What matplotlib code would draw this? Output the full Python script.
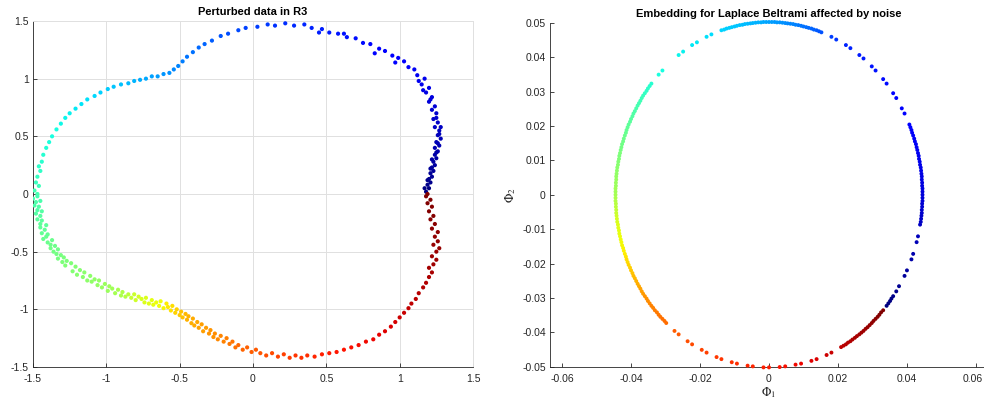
import numpy as np
import matplotlib
matplotlib.use("Agg")
import matplotlib.pyplot as plt
from matplotlib.transforms import ScaledTranslation

plt.rcParams['font.family'] = ['Liberation Sans', 'DejaVu Sans']
plt.rcParams['mathtext.fontset'] = 'stix'

# ---------------- data ----------------
left_title = "Perturbed data in R3"
right_title = "Embedding for Laplace Beltrami affected by noise"

left_ticks = [-1.5, -1, -0.5, 0, 0.5, 1, 1.5]
left_ticklabels = ["-1.5", "-1", "-0.5", "0", "0.5", "1", "1.5"]
right_xticks = [-0.06, -0.04, -0.02, 0, 0.02, 0.04, 0.06]
right_xticklabels = ["-0.06", "-0.04", "-0.02", "0", "0.02", "0.04", "0.06"]
right_yticks = [-0.05, -0.04, -0.03, -0.02, -0.01, 0, 0.01, 0.02, 0.03, 0.04, 0.05]
right_yticklabels = ["-0.05", "-0.04", "-0.03", "-0.02", "-0.01", "0",
                     "0.01", "0.02", "0.03", "0.04", "0.05"]

# perturbed data in R3, projected (x, y, colour parameter)
left_points = [
    (1.18, 0.02, .00), (1.20, 0.05, .005), (1.19, 0.08, .01), (1.21, 0.10, .013), (1.20, 0.13, .016),
    (1.22, 0.15, .02), (1.21, 0.18, .022), (1.23, 0.20, .025), (1.22, 0.23, .028), (1.24, 0.25, .03),
    (1.23, 0.28, .032), (1.25, 0.31, .035), (1.24, 0.34, .038), (1.26, 0.37, .04), (1.24, 0.40, .043),
    (1.27, 0.42, .046), (1.25, 0.45, .048), (1.28, 0.48, .05), (1.26, 0.51, .053), (1.27, 0.55, .056),
    (1.24, 0.58, .06), (1.26, 0.62, .063), (1.23, 0.65, .066), (1.25, 0.70, .07), (1.22, 0.73, .073),
    (1.24, 0.76, .076), (1.20, 0.80, .08), (1.22, 0.84, .083), (1.18, 0.88, .087), (1.20, 0.92, .09),
    (1.15, 0.95, .094), (1.17, 1.00, .097), (1.12, 1.03, .10), (1.10, 1.08, .104), (1.06, 1.10, .108),
    (1.03, 1.15, .112), (0.99, 1.18, .116), (0.95, 1.20, .12), (0.90, 1.24, .124), (0.86, 1.26, .128),
    (0.80, 1.30, .132), (0.75, 1.31, .135), (0.70, 1.35, .14), (0.64, 1.36, .143), (0.58, 1.39, .147),
    (0.52, 1.40, .15), (0.47, 1.43, .154), (0.40, 1.44, .158), (0.35, 1.47, .162), (0.28, 1.46, .166),
    (0.22, 1.48, .17), (0.15, 1.46, .175), (0.10, 1.47, .18), (0.03, 1.45, .185), (-0.05, 1.44, .19),
    (-0.10, 1.42, .196), (-0.17, 1.39, .203), (-0.22, 1.37, .21), (-0.28, 1.33, .217), (-0.33, 1.30, .224),
    (-0.37, 1.27, .23), (-0.41, 1.23, .236), (-0.45, 1.19, .242), (-0.48, 1.15, .248), (-0.51, 1.11, .254),
    (-0.54, 1.08, .26), (-0.57, 1.05, .266), (-0.61, 1.04, .272), (-0.65, 1.02, .278), (-0.69, 1.02, .284),
    (-0.73, 1.00, .29), (-0.77, 0.99, .296), (-0.81, 0.98, .302), (-0.85, 0.96, .308), (-0.90, 0.95, .314),
    (-0.95, 0.93, .32), (-0.99, 0.91, .326), (-1.04, 0.88, .332), (-1.08, 0.85, .338), (-1.13, 0.82, .344),
    (-1.17, 0.78, .35), (-1.21, 0.74, .355), (-1.25, 0.70, .36), (-1.28, 0.66, .365), (-1.31, 0.61, .37),
    (-1.34, 0.56, .375), (-1.37, 0.50, .38), (-1.39, 0.45, .385), (-1.41, 0.40, .39), (-1.43, 0.34, .395),
    (-1.44, 0.28, .40), (-1.46, 0.24, .405), (-1.45, 0.20, .41), (-1.47, 0.15, .415), (-1.48, 0.10, .42),
    (-1.46, 0.07, .425), (-1.49, 0.03, .43), (-1.47, 0.00, .435),
    (-1.47, -0.02, .437), (-1.50, -0.04, .439), (-1.45, -0.06, .441), (-1.48, -0.07, .443), (-1.49, -0.10, .445),
    (-1.46, -0.11, .447), (-1.47, -0.14, .449), (-1.44, -0.15, .451), (-1.48, -0.17, .453), (-1.45, -0.19, .455),
    (-1.47, -0.22, .458), (-1.44, -0.23, .46), (-1.45, -0.26, .462), (-1.41, -0.27, .464), (-1.45, -0.29, .466),
    (-1.42, -0.31, .468), (-1.44, -0.34, .47), (-1.40, -0.35, .472), (-1.41, -0.37, .474), (-1.43, -0.39, .476),
    (-1.37, -0.40, .478), (-1.40, -0.42, .48), (-1.38, -0.44, .482), (-1.35, -0.45, .484), (-1.38, -0.47, .486),
    (-1.33, -0.48, .488), (-1.36, -0.50, .49), (-1.34, -0.52, .492), (-1.31, -0.53, .494), (-1.33, -0.56, .496),
    (-1.29, -0.55, .498), (-1.30, -0.59, .50), (-1.27, -0.58, .502), (-1.28, -0.62, .504), (-1.24, -0.60, .506),
    (-1.23, -0.67, .508), (-1.21, -0.63, .51), (-1.20, -0.70, .512), (-1.18, -0.66, .514), (-1.16, -0.72, .516),
    (-1.15, -0.68, .518), (-1.13, -0.75, .52), (-1.11, -0.71, .522), (-1.10, -0.76, .524), (-1.08, -0.74, .526),
    (-1.06, -0.79, .528), (-1.05, -0.75, .53), (-1.03, -0.81, .533), (-1.01, -0.78, .536), (-0.99, -0.84, .539),
    (-0.98, -0.80, .542), (-0.96, -0.82, .545), (-0.94, -0.86, .548), (-0.92, -0.83, .551), (-0.90, -0.88, .557),
    (-0.89, -0.85, .561), (-0.87, -0.89, .57), (-0.85, -0.87, .578), (-0.83, -0.90, .587), (-0.81, -0.87, .595),
    (-0.80, -0.92, .60), (-0.78, -0.89, .605), (-0.76, -0.91, .61), (-0.74, -0.94, .615), (-0.73, -0.90, .617),
    (-0.71, -0.95, .622), (-0.69, -0.92, .627), (-0.68, -0.96, .629), (-0.66, -0.94, .634), (-0.64, -0.97, .638),
    (-0.63, -0.93, .64), (-0.61, -0.99, .649), (-0.59, -0.95, .657), (-0.58, -0.98, .662), (-0.56, -1.01, .671),
    (-0.55, -0.97, .675), (-0.53, -1.03, .684), (-0.52, -1.00, .688), (-0.50, -1.05, .697), (-0.49, -1.02, .701),
    (-0.48, -1.07, .706), (-0.46, -1.04, .714), (-0.45, -1.09, .72), (-0.44, -1.06, .722), (-0.42, -1.12, .726),
    (-0.41, -1.08, .728), (-0.40, -1.14, .73), (-0.38, -1.11, .734), (-0.37, -1.16, .736), (-0.35, -1.13, .74),
    (-0.34, -1.19, .742), (-0.32, -1.16, .746), (-0.30, -1.21, .75), (-0.29, -1.18, .752), (-0.27, -1.24, .756),
    (-0.26, -1.21, .758), (-0.24, -1.26, .763), (-0.22, -1.23, .767), (-0.20, -1.28, .772), (-0.18, -1.25, .777),
    (-0.16, -1.30, .782), (-0.14, -1.28, .787), (-0.12, -1.33, .792), (-0.10, -1.31, .797), (-0.07, -1.35, .803),
    (-0.04, -1.33, .807), (-0.01, -1.37, .811),
    (0.02, -1.35, .815), (0.05, -1.38, .819), (0.09, -1.40, .825), (0.13, -1.38, .83), (0.17, -1.41, .836),
    (0.21, -1.39, .841), (0.25, -1.42, .846), (0.29, -1.40, .852), (0.33, -1.42, .857), (0.37, -1.40, .862),
    (0.42, -1.41, .868), (0.47, -1.39, .875), (0.52, -1.38, .881), (0.57, -1.37, .886), (0.62, -1.35, .889),
    (0.67, -1.33, .893), (0.72, -1.31, .896), (0.77, -1.28, .90), (0.82, -1.26, .905), (0.86, -1.22, .91),
    (0.90, -1.19, .915), (0.94, -1.15, .92), (0.97, -1.11, .925), (1.00, -1.07, .93), (1.03, -1.03, .934),
    (1.06, -0.99, .938), (1.08, -0.95, .942), (1.11, -0.91, .946), (1.13, -0.86, .95), (1.16, -0.81, .954),
    (1.18, -0.77, .957), (1.20, -0.72, .96), (1.22, -0.68, .963), (1.20, -0.64, .966), (1.23, -0.61, .969),
    (1.25, -0.57, .972), (1.22, -0.54, .974), (1.25, -0.50, .976), (1.27, -0.47, .978), (1.23, -0.44, .98),
    (1.26, -0.41, .982), (1.24, -0.37, .984), (1.26, -0.33, .986), (1.22, -0.30, .988), (1.24, -0.26, .99),
    (1.21, -0.22, .992), (1.23, -0.19, .994), (1.20, -0.15, .995), (1.22, -0.11, .996), (1.19, -0.08, .997),
    (1.21, -0.05, .998), (1.18, -0.02, .999), (1.19, 0.00, 1.0),
    (1.17, 0.05, .006), (1.19, 0.12, .015), (1.21, 0.22, .027), (1.22, 0.30, .034), (1.25, 0.36, .039),
    (1.26, 0.44, .047), (1.27, 0.52, .054), (1.28, 0.58, .059), (1.25, 0.66, .067), (1.21, 0.82, .082),
    (1.16, 0.90, .09), (1.13, 0.98, .098), (0.97, 1.14, .115), (0.83, 1.22, .127), (0.62, 1.39, .144),
    (0.45, 1.40, .156),
]

# Laplace-Beltrami embedding (Phi_1, Phi_2, colour parameter)
right_points = [
    (.0341, -.0323, .000), (.0346, -.0316, .002), (.0351, -.0309, .004), (.0355, -.0302, .006),
    (.0360, -.0295, .008), (.0369, -.0281, .012), (.0377, -.0266, .016), (.0393, -.0236, .024),
    (.0400, -.0220, .028), (.0413, -.0188, .036), (.0418, -.0172, .040), (.0428, -.0138, .048),
    (.0432, -.0121, .052), (.0438, -.0087, .060), (.0440, -.0079, .062), (.0441, -.0070, .064),
    (.0442, -.0061, .066), (.0443, -.0053, .068), (.0443, -.0044, .070), (.0444, -.0035, .072),
    (.0444, -.0026, .074), (.0445, -.0018, .076), (.0445, -.0009, .078), (.0445, .0000, .080),
    (.0445, .0009, .081), (.0445, .0018, .083), (.0444, .0026, .084), (.0444, .0035, .085),
    (.0443, .0044, .086), (.0443, .0053, .088), (.0442, .0061, .089), (.0441, .0070, .091),
    (.0440, .0079, .092), (.0438, .0087, .093), (.0437, .0096, .095), (.0435, .0104, .096),
    (.0434, .0113, .097), (.0432, .0121, .099), (.0430, .0130, .100), (.0428, .0138, .101),
    (.0426, .0147, .103), (.0423, .0155, .104), (.0421, .0163, .105), (.0418, .0172, .107),
    (.0415, .0180, .108), (.0413, .0188, .109), (.0410, .0196, .110), (.0407, .0204, .112),
    (.0393, .0236, .117), (.0385, .0251, .120), (.0369, .0281, .125), (.0360, .0295, .128),
    (.0341, .0323, .133), (.0331, .0336, .136), (.0309, .0361, .141), (.0298, .0373, .144),
    (.0274, .0396, .149), (.0262, .0406, .152), (.0236, .0426, .157), (.0223, .0435, .160),
    (.0195, .0451, .178), (.0181, .0459, .187), (.0152, .0472, .205), (.0145, .0475, .210),
    (.0138, .0478, .214), (.0130, .0480, .219), (.0123, .0483, .223), (.0115, .0485, .228),
    (.0108, .0487, .232), (.0100, .0489, .237), (.0093, .0491, .241), (.0085, .0493, .246),
    (.0077, .0494, .250), (.0070, .0496, .254), (.0062, .0497, .257), (.0054, .0498, .260),
    (.0047, .0499, .263), (.0039, .0500, .267), (.0031, .0501, .270), (.0023, .0501, .274),
    (.0016, .0502, .277), (.0008, .0502, .280), (.0000, .0502, .283), (-.0008, .0502, .287),
    (-.0016, .0502, .290), (-.0023, .0501, .294), (-.0031, .0501, .297), (-.0039, .0500, .299),
    (-.0047, .0499, .301), (-.0054, .0498, .304), (-.0062, .0497, .306), (-.0070, .0496, .309),
    (-.0077, .0494, .311), (-.0085, .0493, .314), (-.0093, .0491, .317), (-.0100, .0489, .320),
    (-.0108, .0487, .322), (-.0115, .0485, .325), (-.0123, .0483, .328), (-.0130, .0480, .330),
    (-.0138, .0478, .333), (-.0167, .0466, .342), (-.0181, .0459, .346), (-.0209, .0443, .352),
    (-.0223, .0435, .355), (-.0249, .0416, .362), (-.0262, .0406, .365), (-.0309, .0361, .378),
    (-.0320, .0349, .382), (-.0341, .0323, .398), (-.0346, .0316, .402), (-.0351, .0309, .406),
    (-.0355, .0302, .410), (-.0360, .0295, .414), (-.0365, .0288, .418), (-.0369, .0281, .422),
    (-.0373, .0273, .426), (-.0377, .0266, .430), (-.0381, .0259, .434), (-.0385, .0251, .438),
    (-.0389, .0243, .442), (-.0393, .0236, .446), (-.0396, .0228, .450), (-.0400, .0220, .454),
    (-.0403, .0212, .459), (-.0407, .0204, .464), (-.0410, .0196, .467), (-.0413, .0188, .471),
    (-.0415, .0180, .474), (-.0418, .0172, .478), (-.0421, .0163, .481), (-.0423, .0155, .485),
    (-.0426, .0147, .488), (-.0428, .0138, .492), (-.0430, .0130, .496), (-.0432, .0121, .500),
    (-.0434, .0113, .503), (-.0435, .0104, .507), (-.0437, .0096, .510), (-.0438, .0087, .514),
    (-.0440, .0079, .517), (-.0441, .0070, .521), (-.0442, .0061, .524), (-.0443, .0053, .528),
    (-.0443, .0044, .532), (-.0444, .0035, .536), (-.0444, .0026, .539), (-.0445, .0018, .543),
    (-.0445, .0009, .546), (-.0445, .0000, .550), (-.0445, -.0009, .557), (-.0445, -.0018, .564),
    (-.0444, -.0026, .571), (-.0444, -.0035, .578), (-.0443, -.0044, .585), (-.0443, -.0053, .592),
    (-.0442, -.0061, .599), (-.0441, -.0070, .606), (-.0440, -.0079, .613), (-.0438, -.0087, .620),
    (-.0437, -.0096, .624), (-.0435, -.0104, .628), (-.0434, -.0113, .632), (-.0432, -.0121, .636),
    (-.0430, -.0130, .640), (-.0428, -.0138, .644), (-.0426, -.0147, .648), (-.0423, -.0155, .652),
    (-.0421, -.0163, .656), (-.0418, -.0172, .660), (-.0415, -.0180, .666), (-.0413, -.0188, .672),
    (-.0410, -.0196, .678), (-.0407, -.0204, .684), (-.0403, -.0212, .690), (-.0400, -.0220, .696),
    (-.0396, -.0228, .702), (-.0393, -.0236, .708), (-.0389, -.0243, .714), (-.0385, -.0251, .720),
    (-.0381, -.0259, .725), (-.0377, -.0266, .730), (-.0373, -.0273, .735), (-.0369, -.0281, .740),
    (-.0365, -.0288, .745), (-.0360, -.0295, .750), (-.0355, -.0302, .755), (-.0351, -.0309, .760),
    (-.0346, -.0316, .765), (-.0341, -.0323, .770), (-.0336, -.0329, .773), (-.0331, -.0336, .777),
    (-.0325, -.0342, .780), (-.0320, -.0349, .783), (-.0315, -.0355, .787), (-.0309, -.0361, .790),
    (-.0303, -.0367, .792), (-.0298, -.0373, .793), (-.0274, -.0396, .810), (-.0262, -.0406, .815),
    (-.0236, -.0426, .825), (-.0223, -.0435, .830), (-.0195, -.0451, .838), (-.0181, -.0459, .842),
    (-.0152, -.0472, .850), (-.0138, -.0478, .853), (-.0108, -.0487, .859), (-.0093, -.0491, .862),
    (-.0062, -.0497, .868), (-.0047, -.0499, .871), (-.0016, -.0502, .877), (.0000, -.0502, .880),
    (.0031, -.0501, .888), (.0047, -.0499, .892), (.0077, -.0494, .900), (.0093, -.0491, .905),
    (.0123, -.0483, .915), (.0138, -.0478, .920), (.0167, -.0466, .930), (.0181, -.0459, .935),
    (.0209, -.0443, .945), (.0216, -.0439, .947), (.0223, -.0435, .950), (.0229, -.0430, .953),
    (.0236, -.0426, .956), (.0242, -.0421, .958), (.0249, -.0416, .961), (.0255, -.0411, .964),
    (.0262, -.0406, .967), (.0268, -.0401, .969), (.0274, -.0396, .972), (.0280, -.0390, .975),
    (.0286, -.0385, .978), (.0292, -.0379, .980), (.0298, -.0373, .983), (.0303, -.0367, .986),
    (.0309, -.0361, .989), (.0315, -.0355, .991), (.0320, -.0349, .994), (.0325, -.0342, .997),
    (.0331, -.0336, 1.000),
]

# ---------------- figure ----------------
W, H = 984, 403
fig = plt.figure(figsize=(W / 100, H / 100), dpi=100)
fig.patch.set_facecolor('white')

axis_col = (0.15, 0.15, 0.15)
light = (0.88, 0.88, 0.88)

lp = np.array(left_points)
rp = np.array(right_points)

# left axes
ax1 = fig.add_axes([33 / W, 36 / H, 440 / W, 346 / H])
ax1.scatter(lp[:, 0], lp[:, 1], c=lp[:, 2], cmap='jet', vmin=0, vmax=1,
            s=9, edgecolors='none', zorder=3)
ax1.set_xlim(-1.5, 1.5)
ax1.set_ylim(-1.5, 1.5)
ax1.set_xticks(left_ticks)
ax1.set_xticklabels(left_ticklabels)
ax1.set_yticks(left_ticks)
ax1.set_yticklabels(left_ticklabels)
ax1.grid(True, color=light, linewidth=0.7)
ax1.set_axisbelow(True)
for side in ['left', 'bottom']:
    ax1.spines[side].set_color(axis_col)
    ax1.spines[side].set_linewidth(0.6)
for side in ['top', 'right']:
    ax1.spines[side].set_color(light)
    ax1.spines[side].set_linewidth(0.7)
ax1.tick_params(direction='in', length=3, width=0.6, colors=axis_col,
                labelsize=7.5, top=False, right=False)
ax1.tick_params(axis='x', pad=5)
ax1.tick_params(axis='y', pad=3)
ax1.set_title(left_title, fontsize=8, fontweight='bold', pad=4)

# right axes
ax2 = fig.add_axes([550 / W, 36.3 / H, 438 / W, 344 / H])
ax2.scatter(rp[:, 0], rp[:, 1], c=rp[:, 2], cmap='jet', vmin=0, vmax=1,
            s=8, edgecolors='none', zorder=3, clip_on=False)
ax2.set_xlim(-0.0635, 0.0635)
ax2.set_ylim(-0.05, 0.05)
ax2.set_xticks(right_xticks)
ax2.set_xticklabels(right_xticklabels)
ax2.set_yticks(right_yticks)
ax2.set_yticklabels(right_yticklabels)
for side in ['top', 'right']:
    ax2.spines[side].set_visible(False)
for side in ['left', 'bottom']:
    ax2.spines[side].set_color(axis_col)
    ax2.spines[side].set_linewidth(0.6)
ax2.tick_params(direction='in', length=3, width=0.6, colors=axis_col,
                labelsize=7.5)
ax2.tick_params(axis='x', pad=5)
ax2.tick_params(axis='y', pad=3)
ax2.set_xlabel(r'$\Phi_1$', fontsize=9, color=axis_col, labelpad=1)
ax2.set_ylabel(r'$\Phi_2$', fontsize=9, color=axis_col, labelpad=3)
ax2.set_title(right_title, fontsize=8, fontweight='bold', pad=4)

# keep the last x tick label inside the picture
last = ax2.get_xticklabels()[-1]
last.set_transform(last.get_transform() + ScaledTranslation(-3 / 100, 0, fig.dpi_scale_trans))

fig.savefig('out.png', dpi=100, facecolor='white')
